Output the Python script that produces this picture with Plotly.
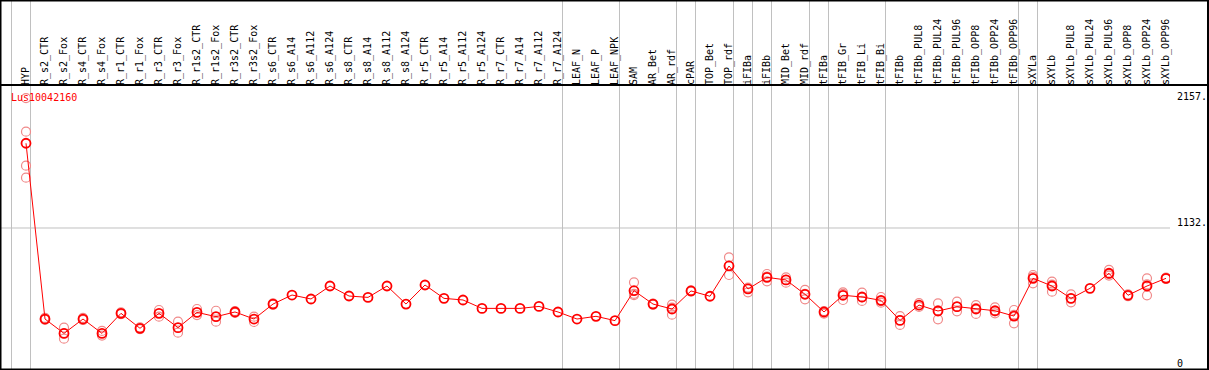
import plotly.graph_objects as go

gene = "Lus10042160"

categories = [
    "HYP", "R_s2_CTR", "R_s2_Fox", "R_s4_CTR", "R_s4_Fox", "R_r1_CTR", "R_r1_Fox",
    "R_r3_CTR", "R_r3_Fox", "R_r1s2_CTR", "R_r1s2_Fox", "R_r3s2_CTR", "R_r3s2_Fox",
    "R_s6_CTR", "R_s6_A14", "R_s6_A112", "R_s6_A124", "R_s8_CTR", "R_s8_A14",
    "R_s8_A112", "R_s8_A124", "R_r5_CTR", "R_r5_A14", "R_r5_A112", "R_r5_A124",
    "R_r7_CTR", "R_r7_A14", "R_r7_A112", "R_r7_A124", "LEAF_N", "LEAF_P", "LEAF_NPK",
    "SAM", "AR_Bet", "AR_rdf", "cPAR", "TOP_Bet", "TOP_rdf", "iFIBa", "iFIBb",
    "MID_Bet", "MID_rdf", "tFIBa", "tFIB_Gr", "tFIB_Li", "tFIB_Bi", "tFIBb",
    "tFIBb_PUL8", "tFIBb_PUL24", "tFIBb_PUL96", "tFIBb_OPP8", "tFIBb_OPP24",
    "tFIBb_OPP96", "sXYLa", "sXYLb", "sXYLb_PUL8", "sXYLb_PUL24", "sXYLb_PUL96",
    "sXYLb_OPP8", "sXYLb_OPP24", "sXYLb_OPP96",
]

means = [
    1817, 396, 280, 396, 280, 442, 321, 442, 326, 450, 415, 453, 396,
    517, 590, 558, 663, 582, 571, 663, 517, 671, 563, 550, 482,
    482, 482, 498, 453, 396, 418, 383,
    625, 517, 477, 623, 580, 825, 639, 733, 712, 596, 453, 588, 574, 547, 385,
    509, 461, 496, 477, 463, 420, 725, 663, 563, 644, 766, 588, 663, 725,
]

replicates = [
    [2182, 1911, 1636, 1539], [405, 390, 396], [326, 237, 280], [405, 388], [300, 262],
    [450, 435], [328, 315], [469, 415], [375, 286], [477, 428], [463, 375], [460, 445],
    [415, 372], [522, 512], [], [], [], [], [], [], [], [], [], [], [],
    [], [], [], [], [], [], [],
    [693, 590, 600], [520, 512], [512, 431, 488], [628, 618], [], [895, 752, 828],
    [650, 612], [760, 701, 740], [733, 690, 712], [631, 555, 600], [460, 440],
    [600, 550, 612], [609, 542, 571], [574, 528, 540], [420, 348, 388],
    [525, 495], [523, 394, 466], [536, 458, 494], [509, 437, 485], [490, 442, 458],
    [469, 361, 430], [752, 685, 738], [698, 617, 674], [596, 531, 562], [],
    [793, 747, 758], [595, 580], [725, 588, 676], [730, 720],
]

# index of last category in each group (group separators drawn after them)
group_ends = [-1, 0, 28, 31, 34, 35, 37, 38, 39, 41, 42, 45, 52, 53, 60]

y_ticks = [0, 1132, 2157]
y_ticktext = ["0", "1132.", "2157."]

# ---- layout geometry ----
W, H = 1209, 370
ML, MR, MT, MB = 1, 39, 86, 1
plot_w = W - ML - MR
plot_h = H - MT - MB
cat_px0, cat_step = 26, 19
x_range = [(ML - cat_px0) / cat_step, (W - MR - cat_px0) / cat_step]
y_range = [-8, 2280]
sep_off = 4.5 / cat_step
paper_top = 1 + MT / plot_h

font = "DejaVu Sans Mono, monospace"

rep_x, rep_y = [], []
for i, reps in enumerate(replicates):
    for v in reps:
        rep_x.append(i)
        rep_y.append(v)

fig = go.Figure()
fig.add_trace(go.Scatter(
    x=rep_x, y=rep_y, mode="markers",
    marker=dict(symbol="circle-open", size=9, color="#f08a8a", line=dict(width=1.2)),
    hoverinfo="skip", showlegend=False,
))
fig.add_trace(go.Scatter(
    x=list(range(len(categories))), y=means, mode="lines+markers",
    line=dict(color="#ff0000", width=1),
    marker=dict(symbol="circle-open", size=9, color="#ff0000", line=dict(width=1.8)),
    showlegend=False,
))

shapes = []
# group separators
for g in group_ends:
    shapes.append(dict(type="line", xref="x", yref="paper", x0=g + sep_off, x1=g + sep_off,
                       y0=0, y1=paper_top, line=dict(color="#c0c0c0", width=1), layer="below"))
# horizontal gridline at middle tick
shapes.append(dict(type="line", xref="paper", yref="y", x0=0, x1=1, y0=y_ticks[1], y1=y_ticks[1],
                   line=dict(color="#c0c0c0", width=1), layer="below"))
# outer frame + separator under labels
px_left = -ML / plot_w
px_right = (W - 1 - ML) / plot_w
shapes.append(dict(type="rect", xref="paper", yref="paper", x0=px_left + 0.5 / plot_w, x1=px_right,
                   y0=-0.5 / plot_h, y1=paper_top - 0.5 / plot_h, line=dict(color="black", width=2)))
shapes.append(dict(type="line", xref="paper", yref="paper", x0=px_left, x1=px_right,
                   y0=1 + 1 / plot_h, y1=1 + 1 / plot_h, line=dict(color="black", width=2)))

fig.update_layout(
    width=W, height=H,
    margin=dict(l=ML, r=MR, t=MT, b=MB, pad=0),
    paper_bgcolor="white", plot_bgcolor="white",
    font=dict(family=font, size=10, color="black"),
    shapes=shapes,
    xaxis=dict(
        range=x_range, side="top", tickmode="array",
        tickvals=list(range(len(categories))), ticktext=categories,
        tickangle=-90, ticks="", showgrid=False, zeroline=False, showline=False,
        tickfont=dict(family=font, size=10, color="black"),
    ),
    yaxis=dict(
        range=y_range, side="right", tickmode="array",
        tickvals=y_ticks, ticktext=y_ticktext, ticks="",
        showgrid=False, zeroline=False, showline=False,
        tickfont=dict(family=font, size=10, color="black"),
        ticklabelshift=-5, ticklabelstandoff=6,
    ),
    annotations=[dict(
        text=gene, xref="paper", yref="paper",
        x=(9 - ML) / plot_w, y=1 - (97 - MT) / plot_h,
        xanchor="left", yanchor="middle", showarrow=False,
        font=dict(family=font, size=10, color="#ff0000"),
    )],
)

fig.write_html(
    "out.html",
    config={"displayModeBar": False},
    post_script="document.body.style.margin='0px';document.body.style.overflow='hidden';",
)
